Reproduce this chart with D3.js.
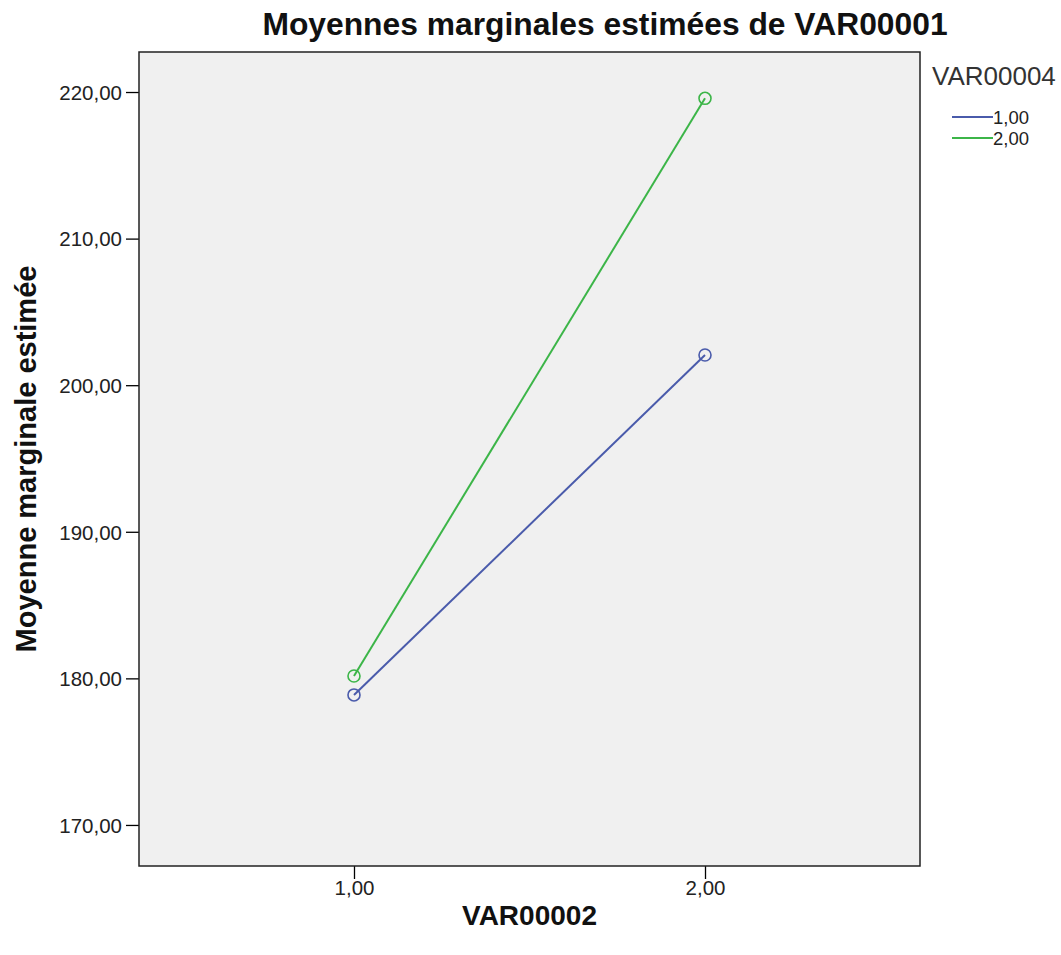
<!DOCTYPE html>
<html><head><meta charset="utf-8">
<script src="https://cdn.jsdelivr.net/npm/d3@7"></script>
<style>body{margin:0;background:#fff}svg{display:block}text{font-family:"Liberation Sans",Arial,sans-serif}</style>
</head><body><svg id="c" width="1061" height="955"></svg>
<script>
const categories = ["1,00", "2,00"];
const seriesNames = ["1,00", "2,00"];
const series1 = [178.87, 202.06];
const series2 = [180.16, 219.57];
const yTicks = [170, 180, 190, 200, 210, 220];
const colors = ["#4a5bab", "#3cb548"];

const svg = d3.select("#c");
const L = 139, R = 920, T = 52, B = 866;
const x = d3.scalePoint().domain(categories).range([L, R]).padding(0.6125);
const y = d3.scaleLinear().domain([167.2, 222.73]).range([B, T]);

svg.append("rect").attr("x", L).attr("y", T).attr("width", R - L).attr("height", B - T)
  .attr("fill", "#f0f0f0");

const fmt = v => d3.format(".2f")(v).replace(".", ",");
const ya = svg.append("g").attr("transform", `translate(${L},0)`)
  .call(d3.axisLeft(y).tickValues(yTicks).tickFormat(fmt).tickSize(13).tickPadding(4));
const xa = svg.append("g").attr("transform", `translate(0,${B})`)
  .call(d3.axisBottom(x).tickSize(13).tickPadding(2));
[ya, xa].forEach(a => {
  a.attr("font-size", null).attr("font-family", null);
  a.select(".domain").remove();
  a.selectAll("line").attr("stroke", "#000").attr("stroke-width", 1.3);
  a.selectAll("text").style("font-size", "20.5px").attr("fill", "#222");
});
ya.selectAll("text").attr("dy", "0.36em");
xa.selectAll("text").attr("dy", "0.68em");

svg.append("rect").attr("x", L).attr("y", T).attr("width", R - L).attr("height", B - T)
  .attr("fill", "none").attr("stroke", "#222").attr("stroke-width", 1.5);

const data = [series1, series2];
const line = d3.line().x((d, i) => x(categories[i])).y(d => y(d));
data.forEach((s, k) => {
  svg.append("path").datum(s).attr("d", line).attr("fill", "none")
    .attr("stroke", colors[k]).attr("stroke-width", 2);
  svg.selectAll(null).data(s).enter().append("circle")
    .attr("cx", (d, i) => x(categories[i])).attr("cy", d => y(d)).attr("r", 6)
    .attr("fill", "none").attr("stroke", colors[k]).attr("stroke-width", 1.6);
});

svg.append("text").attr("x", 605).attr("y", 35).attr("text-anchor", "middle")
  .style("font-size", "31.8px").attr("font-weight", "bold").attr("fill", "#111")
  .text("Moyennes marginales estimées de VAR00001");
svg.append("text").attr("transform", `translate(36,${(T + B) / 2}) rotate(-90)`)
  .attr("text-anchor", "middle").style("font-size", "29px").attr("font-weight", "bold").attr("fill", "#111")
  .text("Moyenne marginale estimée");
svg.append("text").attr("x", (L + R) / 2).attr("y", 925).attr("text-anchor", "middle")
  .style("font-size", "28px").attr("font-weight", "bold").attr("fill", "#111")
  .text("VAR00002");

svg.append("text").attr("x", 932).attr("y", 85).style("font-size", "26px").attr("fill", "#333")
  .text("VAR00004");
seriesNames.forEach((n, k) => {
  const yy = 117 + k * 21;
  svg.append("line").attr("x1", 952).attr("x2", 993).attr("y1", yy).attr("y2", yy)
    .attr("stroke", colors[k]).attr("stroke-width", 2);
  svg.append("text").attr("x", 993).attr("y", yy + 7).style("font-size", "18.5px").attr("fill", "#222").text(n);
});
</script></body></html>
